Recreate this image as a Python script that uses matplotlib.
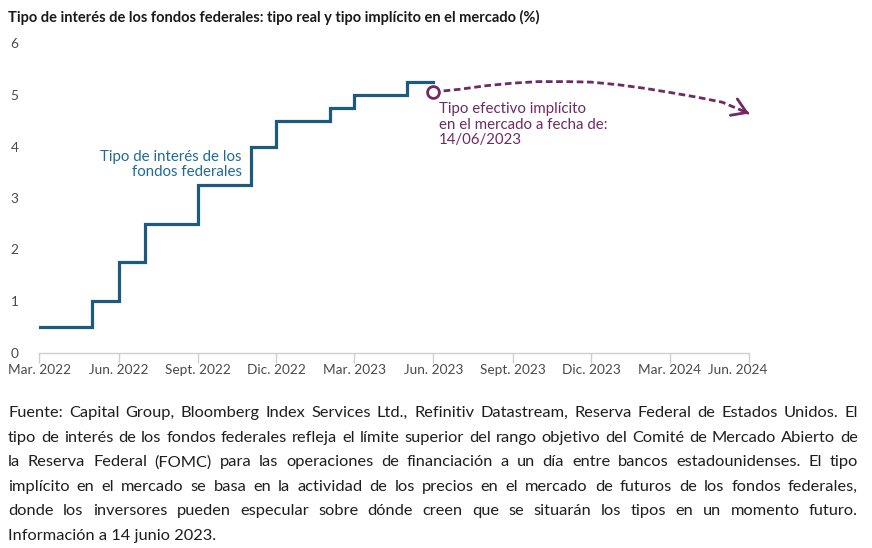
import matplotlib
matplotlib.use("Agg")
import matplotlib.pyplot as plt
import matplotlib.dates as mdates
import matplotlib.transforms as mtransforms
from datetime import datetime

# datos: tipo de los fondos federales (límite superior), mensual
fed_months = ["2022-03", "2022-04", "2022-05", "2022-06", "2022-07", "2022-08",
              "2022-09", "2022-10", "2022-11", "2022-12", "2023-01", "2023-02",
              "2023-03", "2023-04", "2023-05", "2023-06"]
fed_rate = [0.5, 0.5, 1.0, 1.75, 2.5, 2.5, 3.25, 3.25, 4.0, 4.5, 4.5, 4.75,
            5.0, 5.0, 5.25, 5.25]

# tipo implícito en el mercado (futuros) a 14/06/2023
implied_months = ["2023-06", "2023-07", "2023-08", "2023-09", "2023-10", "2023-11",
                  "2023-12", "2024-01", "2024-02", "2024-03", "2024-04", "2024-05",
                  "2024-06"]
implied_rate = [5.06, 5.11, 5.18, 5.23, 5.26, 5.26, 5.25, 5.20, 5.13, 5.05,
                4.96, 4.86, 4.64]

tick_months = ["2022-03", "2022-06", "2022-09", "2022-12", "2023-03", "2023-06",
               "2023-09", "2023-12", "2024-03", "2024-06"]
tick_labels = ["Mar. 2022", "Jun. 2022", "Sept. 2022", "Dic. 2022", "Mar. 2023",
               "Jun. 2023", "Sept. 2023", "Dic. 2023", "Mar. 2024", "Jun. 2024"]

footer_lines = [
    "Fuente: Capital Group, Bloomberg Index Services Ltd., Refinitiv Datastream, Reserva Federal de Estados Unidos. El",
    "tipo de interés de los fondos federales refleja el límite superior del rango objetivo del Comité de Mercado Abierto de",
    "la Reserva Federal (FOMC) para las operaciones de financiación a un día entre bancos estadounidenses. El tipo",
    "implícito en el mercado se basa en la actividad de los precios en el mercado de futuros de los fondos federales,",
    "donde los inversores pueden especular sobre dónde creen que se situarán los tipos en un momento futuro.",
    "Información a 14 junio 2023.",
]

BLUE = "#1d5a80"
BLUE_TXT = "#1f6a96"
PURPLE = "#6e2a63"
GREY = "#4a4a4a"

def to_dates(months):
    return [datetime.strptime(m, "%Y-%m") for m in months]

W, H = 872, 548
fig = plt.figure(figsize=(W / 100, H / 100), dpi=100)
ax = fig.add_axes([39.3 / W, 1 - 352.5 / H, (749 - 39.3) / W, (352.5 - 43.5) / H])

fed_x = to_dates(fed_months)
imp_x = to_dates(implied_months)
tick_x = to_dates(tick_months)

ax.step(fed_x, fed_rate, where="post", color=BLUE, lw=2.3, solid_joinstyle="miter", zorder=3)

ax.plot(imp_x, implied_rate, color=PURPLE, lw=2.0, dashes=(2.4, 1.3), zorder=3)
# punta de flecha abierta, en la dirección del último tramo
x1, x0 = mdates.date2num(imp_x[-1]), mdates.date2num(imp_x[-2])
y1, y0 = implied_rate[-1], implied_rate[-2]
k = 0.08
ax.annotate("", xy=(x1, y1), xytext=(x1 - k * (x1 - x0), y1 - k * (y1 - y0)),
            arrowprops=dict(arrowstyle="->,head_length=0.5,head_width=0.32",
                            mutation_scale=20, color=PURPLE, lw=2.0,
                            shrinkA=0, shrinkB=0, joinstyle="miter"))
ax.plot([imp_x[0]], [implied_rate[0]], marker="o", ms=8.5, mfc="white", mec=PURPLE,
        mew=2.0, zorder=4)

ax.set_xlim(tick_x[0], tick_x[-1])
ax.set_ylim(0, 6)
ax.set_yticks(range(0, 7))
ax.set_xticks(tick_x)
ax.set_xticklabels(tick_labels)

for s in ["top", "right", "left"]:
    ax.spines[s].set_visible(False)
ax.spines["bottom"].set_color("#cfcfcf")
ax.spines["bottom"].set_linewidth(1.0)
ax.tick_params(axis="x", length=7, width=1.0, color="#cfcfcf", pad=1,
               labelsize=9.8, labelcolor=GREY)
ax.tick_params(axis="y", length=0, pad=15, labelsize=9.8, labelcolor=GREY)
for lab in ax.get_xticklabels() + ax.get_yticklabels():
    lab.set_fontfamily("Lato")
last = ax.get_xticklabels()[-1]
last.set_transform(last.get_transform() +
                   mtransforms.ScaledTranslation(-11 / 100, 0, fig.dpi_scale_trans))

ax.text(mdates.date2num(datetime(2022, 11, 1)) - 10, 3.94,
        "Tipo de interés de los\nfondos federales", ha="right", va="top",
        color=BLUE_TXT, fontsize=10.8, family="Lato", linespacing=1.15)
ax.text(mdates.date2num(datetime(2023, 6, 1)) + 6, 4.86,
        "Tipo efectivo implícito\nen el mercado a fecha de:\n14/06/2023",
        ha="left", va="top", color=PURPLE, fontsize=10.8, family="Lato",
        linespacing=1.12)

fig.text(8 / W, 1 - 17 / H,
         "Tipo de interés de los fondos federales: tipo real y tipo implícito en el mercado (%)",
         ha="left", va="center", fontsize=10.5, fontweight="bold", family="Lato",
         color="#1a1a1a")

# pie de página justificado
renderer = fig.canvas.get_renderer()
left_px, right_px = 8, 858
for i, line in enumerate(footer_lines):
    y = 1 - (413 + 24.6 * i) / H
    kw = dict(fontsize=11.8, family="Lato", color="#1e1e1e", va="center", ha="left")
    if i == len(footer_lines) - 1:
        fig.text(left_px / W, y, line, **kw)
        continue
    words = line.split()
    texts = [fig.text(0, y, w, **kw) for w in words]
    widths = [t.get_window_extent(renderer).width for t in texts]
    gap = (right_px - left_px - sum(widths)) / (len(words) - 1)
    x = left_px
    for t, w in zip(texts, widths):
        t.set_x(x / W)
        x += w + gap

fig.savefig("out.png", dpi=100)
